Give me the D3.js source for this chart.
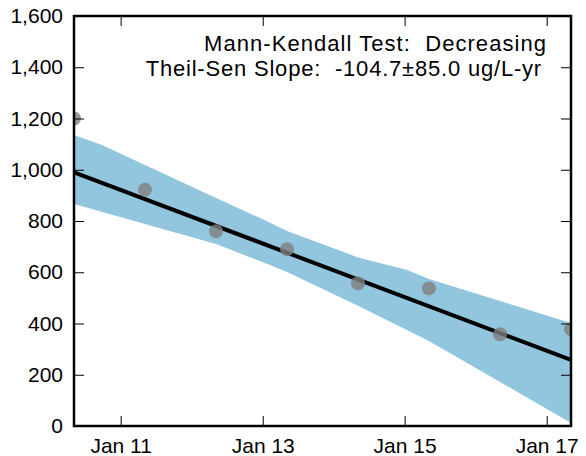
<!DOCTYPE html>
<html><head><meta charset="utf-8">
<script src="https://cdn.jsdelivr.net/npm/d3@7"></script>
<style>body{margin:0;background:#fff;} svg{display:block;font-family:"Liberation Sans",Arial,sans-serif;}</style>
</head><body>
<svg id="chart" width="586" height="456"></svg>
<script>
const sampleDates = ["2010-05-06","2011-05-06","2012-05-06","2013-05-06","2014-05-06","2015-05-06","2016-05-06","2017-05-06"];
const concentrations = [1200, 922, 760, 690, 557, 537, 358, 378];
const upperDates = ["2010-05-06","2010-09-27","2011-05-06","2012-05-06","2013-01-15","2013-05-06","2014-05-06","2015-01-10","2015-05-06","2016-05-06","2017-05-06"];
const upperValues = [1136, 1097, 1019, 890, 802, 761, 658, 610, 574, 488, 402];
const lowerDates = ["2010-05-06","2011-05-06","2012-05-06","2013-02-01","2013-05-06","2014-05-06","2015-05-06","2016-05-06","2017-05-06"];
const lowerValues = [866, 788, 710, 630, 601, 469, 332, 172, 12];
const trendDates = ["2010-05-06","2017-05-06"];
const trendValues = [990, 258];
const yTicks = [0, 200, 400, 600, 800, 1000, 1200, 1400, 1600];
const xTickDates = ["2011-01-01","2013-01-01","2015-01-01","2017-01-01"];
const annotation = ["Mann-Kendall Test:  Decreasing", "Theil-Sen Slope:  -104.7\u00b185.0 ug/L-yr"];

const parse = d3.utcParse("%Y-%m-%d");
const L = 74, R = 571, T = 16, B = 426;
const FONT = "Liberation Sans, Arial, sans-serif";
const svg = d3.select("#chart");
const x = d3.scaleUtc().domain([parse(sampleDates[0]), parse(sampleDates[sampleDates.length-1])]).range([L, R]);
const y = d3.scaleLinear().domain([0, 1600]).range([B, T]);

svg.append("defs").append("clipPath").attr("id","clip")
  .append("rect").attr("x",L).attr("y",T).attr("width",R-L).attr("height",B-T);
const g = svg.append("g").attr("clip-path","url(#clip)");

const upperPts = upperDates.map((d,i)=>[x(parse(d)), y(upperValues[i])]);
const lowerPts = lowerDates.map((d,i)=>[x(parse(d)), y(lowerValues[i])]).reverse();
g.append("path").attr("d", d3.line()(upperPts.concat(lowerPts)) + "Z")
  .attr("fill","#92c5de").attr("stroke","none");

g.append("path").attr("d", d3.line()(trendDates.map((d,i)=>[x(parse(d)), y(trendValues[i])])))
  .attr("stroke","#000").attr("stroke-width",4).attr("fill","none");

g.selectAll("circle").data(sampleDates).join("circle")
  .attr("cx", d=>x(parse(d))).attr("cy", (d,i)=>y(concentrations[i])).attr("r",7)
  .attr("fill","#808080").attr("fill-opacity",0.8);

const xt = xTickDates.map(parse);
const fmt = d3.utcFormat("%b %y");
svg.append("g").attr("transform",`translate(0,${B})`)
  .call(d3.axisBottom(x).tickValues(xt).tickFormat(fmt).tickSizeInner(-10).tickSizeOuter(0).tickPadding(12))
  .call(a=>{a.select(".domain").remove(); a.selectAll("text").attr("font-size",21).attr("font-family",FONT).attr("fill","#000");});
svg.append("g").attr("transform",`translate(0,${T})`)
  .call(d3.axisTop(x).tickValues(xt).tickFormat("").tickSizeInner(-10).tickSizeOuter(0))
  .call(a=>a.select(".domain").remove());
svg.append("g").attr("transform",`translate(${L},0)`)
  .call(d3.axisLeft(y).tickValues(yTicks).tickFormat(d3.format(",")).tickSizeInner(-10).tickSizeOuter(0).tickPadding(11))
  .call(a=>{a.select(".domain").remove(); a.selectAll("text").attr("font-size",21).attr("font-family",FONT).attr("fill","#000");});
svg.append("g").attr("transform",`translate(${R},0)`)
  .call(d3.axisRight(y).tickValues(yTicks).tickFormat("").tickSizeInner(-10).tickSizeOuter(0))
  .call(a=>a.select(".domain").remove());
svg.selectAll(".tick line").attr("stroke","#000").attr("stroke-width",1);

svg.append("rect").attr("x",L).attr("y",T).attr("width",R-L).attr("height",B-T)
  .attr("fill","none").attr("stroke","#000").attr("stroke-width",2.5);

const keepSpaces = s => s.replace(/  /g, " \u00a0");
const ann = svg.append("g").attr("font-size",22).attr("font-family",FONT).attr("text-anchor","end");
ann.append("text").attr("x",547).attr("y",51).attr("letter-spacing","1.05px").text(keepSpaces(annotation[0]));
ann.append("text").attr("x",542).attr("y",76).attr("letter-spacing","0.8px").text(keepSpaces(annotation[1]));
</script>
</body></html>
